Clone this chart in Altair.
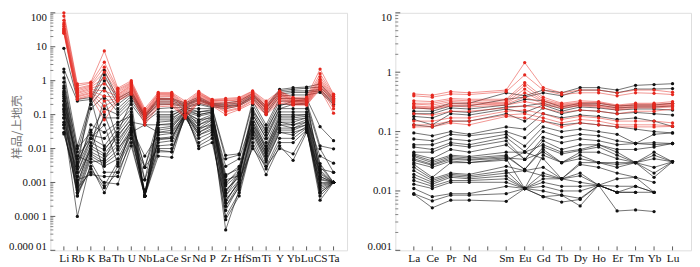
import altair as alt
import pandas as pd

# ---------------- data ----------------
left_elements = ["Li", "Rb", "K", "Ba", "Th", "U", "Nb", "La", "Ce", "Sr", "Nd",
                 "P", "Zr", "Hf", "Sm", "Ti", "Y", "Yb", "Lu", "CS", "Ta"]
right_elements = ["La", "Ce", "Pr", "Nd", "Pm", "Sm", "Eu", "Gd", "Tb", "Dy",
                  "Ho", "Er", "Tm", "Yb", "Lu"]

left_red = [
    [100, 0.8, 0.9, 7.5, 0.6, 1.0, 0.15, 0.45, 0.45, 0.25, 0.48, 0.28, 0.3, 0.32, 0.5, 0.25, 0.5, 0.32, 0.33, 2.2, 0.4],
    [80, 0.7, 0.85, 3.5, 0.55, 0.9, 0.13, 0.42, 0.42, 0.22, 0.45, 0.27, 0.28, 0.3, 0.48, 0.22, 0.48, 0.3, 0.3, 1.6, 0.38],
    [60, 0.6, 0.75, 2.5, 0.5, 0.85, 0.12, 0.4, 0.4, 0.2, 0.42, 0.26, 0.26, 0.28, 0.45, 0.2, 0.45, 0.28, 0.28, 1.3, 0.35],
    [50, 0.55, 0.7, 1.8, 0.45, 0.8, 0.11, 0.38, 0.38, 0.18, 0.4, 0.25, 0.25, 0.27, 0.42, 0.18, 0.42, 0.27, 0.27, 1.1, 0.33],
    [45, 0.5, 0.65, 1.2, 0.4, 0.75, 0.1, 0.35, 0.36, 0.16, 0.38, 0.24, 0.22, 0.25, 0.4, 0.17, 0.4, 0.26, 0.26, 1.0, 0.3],
    [40, 0.45, 0.6, 0.8, 0.38, 0.7, 0.1, 0.33, 0.34, 0.15, 0.35, 0.23, 0.2, 0.24, 0.38, 0.16, 0.38, 0.25, 0.25, 0.9, 0.28],
    [35, 0.42, 0.55, 0.5, 0.35, 0.65, 0.09, 0.3, 0.3, 0.13, 0.33, 0.22, 0.18, 0.22, 0.35, 0.15, 0.35, 0.24, 0.24, 0.8, 0.26],
    [32, 0.38, 0.5, 0.35, 0.32, 0.6, 0.085, 0.28, 0.28, 0.12, 0.3, 0.21, 0.16, 0.2, 0.32, 0.14, 0.32, 0.23, 0.23, 0.75, 0.24],
    [30, 0.35, 0.45, 0.25, 0.3, 0.55, 0.08, 0.25, 0.25, 0.1, 0.28, 0.2, 0.15, 0.18, 0.3, 0.13, 0.3, 0.22, 0.22, 0.7, 0.22],
    [28, 0.33, 0.42, 0.18, 0.28, 0.5, 0.07, 0.22, 0.22, 0.09, 0.26, 0.2, 0.13, 0.16, 0.27, 0.12, 0.28, 0.21, 0.21, 0.65, 0.18],
    [26, 0.3, 0.38, 0.12, 0.26, 0.45, 0.06, 0.19, 0.2, 0.085, 0.24, 0.19, 0.12, 0.15, 0.25, 0.11, 0.25, 0.2, 0.2, 0.6, 0.15],
    [25, 0.28, 0.35, 0.07, 0.25, 0.4, 0.05, 0.17, 0.18, 0.08, 0.22, 0.18, 0.1, 0.14, 0.22, 0.1, 0.22, 0.19, 0.19, 0.55, 0.11],
]

left_black = [
    [9, 0.28, 0.32, 2.0, 0.3, 0.5, 0.1, 0.3, 0.3, 0.22, 0.33, 0.21, 0.22, 0.25, 0.42, 0.18, 0.55, 0.62, 0.65, 0.8, 0.3],
    [2.2, 0.25, 0.28, 1.5, 0.25, 0.45, 0.09, 0.28, 0.28, 0.2, 0.3, 0.2, 0.2, 0.22, 0.38, 0.16, 0.5, 0.56, 0.6, 0.65, 0.27],
    [1.8, 0.012, 0.25, 1.0, 0.2, 0.4, 0.09, 0.25, 0.25, 0.19, 0.28, 0.19, 0.18, 0.2, 0.35, 0.15, 0.45, 0.5, 0.5, 0.55, 0.24],
    [1.2, 0.008, 0.2, 0.6, 0.15, 0.35, 0.08, 0.22, 0.22, 0.18, 0.26, 0.18, 0.17, 0.19, 0.33, 0.12, 0.4, 0.45, 0.45, 0.5, 0.22],
    [0.9, 0.005, 0.15, 0.35, 0.12, 0.3, 0.08, 0.2, 0.2, 0.17, 0.22, 0.17, 0.15, 0.18, 0.3, 0.1, 0.35, 0.38, 0.38, 0.45, 0.2],
    [0.7, 0.01, 0.03, 0.15, 0.1, 0.25, 0.07, 0.15, 0.16, 0.16, 0.2, 0.16, 0.0063, 0.007, 0.25, 0.05, 0.3, 0.3, 0.3, 0.044, 0.017],
    [0.5, 0.006, 0.02, 0.08, 0.08, 0.2, 0.06, 0.12, 0.12, 0.15, 0.15, 0.15, 0.005, 0.0065, 0.2, 0.04, 0.25, 0.25, 0.25, 0.012, 0.0098],
    [0.45, 0.004, 0.025, 0.02, 0.05, 0.15, 0.0004, 0.1, 0.1, 0.14, 0.12, 0.13, 0.0017, 0.0025, 0.15, 0.03, 0.2, 0.2, 0.2, 0.0099, 0.002],
    [0.35, 0.003, 0.02, 0.012, 0.04, 0.12, 0.0004, 0.08, 0.08, 0.13, 0.1, 0.12, 0.001, 0.002, 0.12, 0.025, 0.15, 0.15, 0.15, 0.0036, 0.001],
    [0.3, 0.002, 0.015, 0.009, 0.03, 0.1, 0.0012, 0.06, 0.065, 0.12, 0.09, 0.11, 0.0008, 0.0018, 0.1, 0.02, 0.12, 0.12, 0.12, 0.0023, 0.001],
    [0.25, 0.0015, 0.012, 0.007, 0.022, 0.08, 0.0004, 0.05, 0.05, 0.11, 0.07, 0.1, 0.0006, 0.0015, 0.08, 0.015, 0.1, 0.1, 0.1, 0.0018, 0.001],
    [0.2, 0.001, 0.01, 0.006, 0.015, 0.06, 0.0028, 0.04, 0.045, 0.1, 0.06, 0.09, 0.0005, 0.002, 0.06, 0.012, 0.08, 0.08, 0.09, 0.0015, 0.001],
    [0.15, 0.0008, 0.008, 0.005, 0.012, 0.05, 0.0004, 0.03, 0.035, 0.095, 0.05, 0.08, 0.0004, 0.0012, 0.05, 0.01, 0.06, 0.06, 0.08, 0.0012, 0.001],
    [0.12, 0.0006, 0.007, 0.004, 0.009, 0.04, 0.006, 0.025, 0.028, 0.09, 0.04, 0.07, 0.0003, 0.001, 0.04, 0.008, 0.05, 0.05, 0.07, 0.0009, 0.001],
    [0.1, 0.0005, 0.006, 0.0035, 0.007, 0.035, 0.0004, 0.02, 0.022, 0.1, 0.035, 0.06, 0.0002, 0.0009, 0.035, 0.006, 0.04, 0.04, 0.06, 0.0007, 0.001],
    [0.08, 0.0004, 0.005, 0.003, 0.005, 0.03, 0.0012, 0.015, 0.017, 0.09, 0.03, 0.05, 0.00015, 0.0008, 0.03, 0.005, 0.035, 0.035, 0.05, 0.0005, 0.001],
    [0.06, 0.0001, 0.004, 0.0008, 0.004, 0.025, 0.0004, 0.012, 0.013, 0.085, 0.025, 0.04, 0.00004, 0.0006, 0.025, 0.004, 0.03, 0.03, 0.04, 0.0003, 0.001],
    [0.05, 0.0004, 0.003, 0.0005, 0.003, 0.02, 0.0028, 0.01, 0.01, 0.08, 0.02, 0.03, 0.0001, 0.0005, 0.02, 0.003, 0.02, 0.02, 0.04, 0.0004, 0.001],
    [0.04, 0.0005, 0.0025, 0.0007, 0.002, 0.015, 0.0004, 0.008, 0.008, 0.09, 0.015, 0.025, 0.00008, 0.0004, 0.015, 0.0025, 0.015, 0.015, 0.035, 0.001, 0.001],
    [0.03, 0.0007, 0.002, 0.001, 0.0009, 0.012, 0.0004, 0.006, 0.0055, 0.1, 0.012, 0.02, 0.0002, 0.0007, 0.012, 0.0017, 0.012, 0.0045, 0.03, 0.002, 0.001],
    [0.027, 0.0012, 0.0017, 0.0015, 0.0015, 0.02, 0.0006, 0.009, 0.008, 0.12, 0.01, 0.015, 0.00025, 0.0012, 0.01, 0.003, 0.01, 0.007, 0.035, 0.0006, 0.001],
    [0.6, 0.003, 0.3, 0.01, 0.025, 0.07, 0.0028, 0.07, 0.07, 0.15, 0.1, 0.12, 0.0012, 0.0016, 0.1, 0.02, 0.15, 0.2, 0.22, 0.003, 0.001],
    [0.4, 0.0025, 0.05, 0.03, 0.06, 0.09, 0.0004, 0.09, 0.09, 0.17, 0.12, 0.14, 0.0006, 0.0014, 0.13, 0.035, 0.18, 0.25, 0.28, 0.0015, 0.001],
    [0.18, 0.0009, 0.012, 0.3, 0.018, 0.06, 0.05, 0.05, 0.055, 0.12, 0.07, 0.08, 0.003, 0.005, 0.08, 0.01, 0.09, 0.09, 0.1, 0.0025, 0.002],
    [0.08, 0.0015, 0.009, 0.1, 0.01, 0.03, 0.05, 0.03, 0.03, 0.11, 0.04, 0.05, 0.0015, 0.003, 0.05, 0.007, 0.06, 0.05, 0.06, 0.0013, 0.001],
    [0.05, 0.002, 0.02, 0.05, 0.0035, 0.03, 0.0004, 0.02, 0.02, 0.1, 0.03, 0.045, 0.0009, 0.0025, 0.04, 0.006, 0.05, 0.04, 0.05, 0.0008, 0.001],
    [0.25, 0.0035, 0.035, 0.002, 0.002, 0.05, 0.0004, 0.035, 0.04, 0.13, 0.05, 0.07, 0.0004, 0.0018, 0.06, 0.009, 0.07, 0.07, 0.08, 0.006, 0.0037],
    [0.14, 0.006, 0.004, 0.0045, 0.03, 0.25, 0.0004, 0.018, 0.02, 0.11, 0.025, 0.035, 0.0003, 0.001, 0.03, 0.0045, 0.03, 0.025, 0.045, 0.0005, 0.001],
]

right_red = [
    [0.43, 0.41, 0.47, 0.45, None, 0.5, 1.45, 0.55, 0.45, 0.5, 0.5, 0.45, 0.5, 0.5, 0.46],
    [0.4, 0.38, 0.43, 0.42, None, 0.47, 0.9, 0.5, 0.42, 0.45, 0.45, 0.4, 0.45, 0.44, 0.42],
    [0.33, 0.32, 0.36, 0.35, None, 0.35, 0.67, 0.38, 0.3, 0.33, 0.32, 0.28, 0.3, 0.3, 0.32],
    [0.3, 0.3, 0.34, 0.33, None, 0.33, 0.6, 0.35, 0.29, 0.31, 0.31, 0.27, 0.29, 0.29, 0.3],
    [0.29, 0.28, 0.32, 0.31, None, 0.31, 0.52, 0.33, 0.28, 0.3, 0.3, 0.26, 0.28, 0.28, 0.29],
    [0.27, 0.26, 0.3, 0.29, None, 0.3, 0.45, 0.32, 0.27, 0.29, 0.28, 0.25, 0.27, 0.27, 0.28],
    [0.26, 0.25, 0.28, 0.28, None, 0.29, 0.38, 0.3, 0.26, 0.28, 0.27, 0.24, 0.26, 0.26, 0.27],
    [0.25, 0.24, 0.27, 0.26, None, 0.28, 0.32, 0.28, 0.25, 0.27, 0.26, 0.23, 0.25, 0.25, 0.26],
    [0.2, 0.19, 0.22, 0.22, None, 0.25, 0.27, 0.25, 0.21, 0.23, 0.22, 0.2, 0.22, 0.22, 0.24],
    [0.15, 0.15, 0.17, 0.17, None, 0.22, 0.23, 0.2, 0.16, 0.18, 0.17, 0.15, 0.15, 0.15, 0.14],
    [0.13, 0.13, 0.15, 0.15, None, 0.19, 0.2, 0.17, 0.14, 0.16, 0.15, 0.13, 0.13, 0.13, 0.125],
    [0.12, 0.12, 0.14, 0.13, None, 0.18, 0.17, 0.15, 0.12, 0.14, 0.13, 0.12, 0.12, 0.12, 0.122],
]

right_black = [
    [0.25, 0.24, 0.3, 0.3, None, 0.45, 0.4, 0.5, 0.45, 0.55, 0.55, 0.5, 0.6, 0.62, 0.64],
    [0.22, 0.22, 0.27, 0.27, None, 0.35, 0.38, 0.45, 0.4, 0.5, 0.5, 0.45, 0.52, 0.52, 0.53],
    [0.2, 0.2, 0.25, 0.24, None, 0.28, 0.35, 0.33, 0.26, 0.3, 0.3, 0.27, 0.28, 0.28, 0.3],
    [0.18, 0.17, 0.22, 0.21, None, 0.26, 0.27, 0.3, 0.24, 0.28, 0.28, 0.25, 0.26, 0.26, 0.27],
    [0.16, 0.13, 0.2, 0.19, None, 0.24, 0.21, 0.28, 0.22, 0.26, 0.25, 0.23, 0.24, 0.24, 0.23],
    [0.13, 0.12, 0.15, 0.15, None, 0.2, 0.15, 0.25, 0.2, 0.23, 0.22, 0.2, 0.21, 0.2, 0.19],
    [0.095, 0.085, 0.1, 0.09, None, 0.12, 0.11, 0.2, 0.17, 0.19, 0.18, 0.16, 0.17, 0.15, 0.122],
    [0.075, 0.07, 0.09, 0.085, None, 0.1, 0.079, 0.15, 0.13, 0.14, 0.13, 0.12, 0.11, 0.1, 0.095],
    [0.06, 0.06, 0.075, 0.07, None, 0.09, 0.057, 0.12, 0.1, 0.11, 0.1, 0.09, 0.063, 0.09, 0.095],
    [0.055, 0.05, 0.065, 0.06, None, 0.08, 0.046, 0.1, 0.08, 0.09, 0.085, 0.07, 0.063, 0.065, 0.063],
    [0.045, 0.045, 0.06, 0.055, None, 0.07, 0.034, 0.08, 0.065, 0.075, 0.07, 0.06, 0.063, 0.06, 0.063],
    [0.042, 0.035, 0.05, 0.045, None, 0.06, 0.034, 0.07, 0.05, 0.06, 0.06, 0.05, 0.05, 0.055, 0.063],
    [0.04, 0.032, 0.04, 0.038, None, 0.045, 0.045, 0.06, 0.045, 0.05, 0.06, 0.045, 0.03, 0.045, 0.031],
    [0.038, 0.03, 0.038, 0.036, None, 0.04, 0.023, 0.055, 0.042, 0.048, 0.055, 0.04, 0.03, 0.04, 0.031],
    [0.035, 0.028, 0.036, 0.034, None, 0.038, 0.023, 0.05, 0.03, 0.045, 0.045, 0.035, 0.03, 0.035, 0.031],
    [0.033, 0.027, 0.034, 0.033, None, 0.036, 0.034, 0.045, 0.03, 0.04, 0.03, 0.03, 0.03, 0.025, 0.031],
    [0.03, 0.025, 0.032, 0.03, None, 0.035, 0.011, 0.04, 0.03, 0.035, 0.03, 0.028, 0.03, 0.02, 0.031],
    [0.028, 0.017, 0.03, 0.03, None, 0.033, 0.045, 0.035, 0.016, 0.03, 0.03, 0.025, 0.03, 0.017, 0.031],
    [0.025, 0.016, 0.02, 0.019, None, 0.026, 0.022, 0.025, 0.016, 0.028, 0.025, 0.02, 0.017, 0.014, None],
    [0.022, 0.015, 0.019, 0.018, None, 0.022, 0.011, 0.02, 0.016, 0.02, 0.0125, 0.016, 0.017, 0.0095, None],
    [0.019, 0.014, 0.018, 0.017, None, 0.02, 0.022, 0.018, 0.016, 0.018, 0.0125, 0.012, 0.012, 0.0095, None],
    [0.017, 0.013, 0.017, 0.016, None, 0.018, 0.011, 0.016, 0.016, 0.014, 0.0125, 0.0095, 0.012, 0.0095, None],
    [0.015, 0.012, 0.015, 0.015, None, 0.016, 0.011, 0.014, 0.012, 0.012, 0.0125, 0.0095, 0.0095, None, None],
    [0.013, 0.011, 0.014, 0.014, None, 0.014, 0.011, 0.012, 0.01, 0.01, 0.0125, 0.0046, 0.0048, 0.0045, None],
    [0.011, 0.008, 0.009, 0.009, None, 0.012, 0.011, 0.01, 0.0085, 0.0075, 0.0125, 0.0095, 0.0095, 0.0095, None],
    [0.009, 0.0068, 0.0085, 0.0085, None, 0.009, 0.011, 0.008, 0.0085, 0.0056, 0.0125, 0.0095, None, None, None],
    [0.0088, 0.0052, 0.007, 0.007, None, 0.0067, 0.011, 0.008, 0.0065, 0.0072, 0.0125, 0.0095, None, None, None],
]

left_decades = [1e-5, 1e-4, 1e-3, 1e-2, 1e-1, 1, 10, 100]
left_decade_labels = ["0.000 01", "0.000 1", "0.001", "0.01", "0.1", "1", "10", "100"]
right_decades = [1e-3, 1e-2, 1e-1, 1, 10]
right_decade_labels = ["0.001", "0.01", "0.1", "1", "10"]
y_title = "样品/上地壳"

RED = "#e5281f"
BLACK = "#111111"
SERIF = "Liberation Serif"


def long_df(series_list, elements, group):
    rows = []
    for i, s in enumerate(series_list):
        for j, (el, v) in enumerate(zip(elements, s)):
            if v is None:
                continue
            rows.append({"series": f"{group}{i}", "el": el, "idx": j, "value": v})
    return pd.DataFrame(rows)


def label_expr(decades, labels):
    import math
    expr = "''"
    for d, lab in zip(decades, labels):
        k = int(round(math.log10(d)))
        expr = f"(round(log(datum.value)/LN10) == {k} ? '{lab}' : {expr})"
    return expr


def minor_ticks(decades):
    vals = []
    for d in decades[:-1]:
        for m in range(2, 10):
            vals.append(d * m)
    return vals


def panel(black, red, elements, decades, labels, width, height, title=None):
    xscale = alt.Scale(type="point", domain=elements, padding=1)
    yscale = alt.Scale(type="log", domain=[decades[0], decades[-1]], nice=False)
    axis_kw = dict(values=decades, labelExpr=label_expr(decades, labels), ticks=False,
                   domain=False, grid=False, labelFont=SERIF, labelFontSize=11,
                   labelColor="#111", labelPadding=4, labelFlush=True, labelFlushOffset=1)
    if title:
        axis_kw.update(title=title, titleFont="Noto Sans CJK SC", titleFontSize=12,
                       titleFontWeight="normal", titleColor="#777", titleX=-27,
                       titleY=height / 2 - 5)
    else:
        axis_kw.update(title=None)
    yaxis = alt.Axis(**axis_kw)
    xaxis = alt.Axis(title=None, labelExpr="datum.value == 'Pm' ? '' : datum.value",
                     ticks=False, domain=False, grid=False, labelAngle=0, labelFont=SERIF,
                     labelFontSize=11.5, labelColor="#111", labelPadding=2)
    X = lambda: alt.X("el:N", scale=xscale, axis=xaxis)

    dfb = long_df(black, elements, "b")
    dfr = long_df(red, elements, "r")

    def lines(df, color, op):
        base = alt.Chart(df)
        ln = base.mark_line(strokeWidth=0.7, opacity=op, color=color).encode(
            x=X(),
            y=alt.Y("value:Q", scale=yscale, axis=yaxis),
            detail="series:N",
            order=alt.Order("idx:Q"),
        )
        pt = base.mark_point(filled=True, size=11, opacity=1, color=color, shape="circle").encode(
            x=X(),
            y=alt.Y("value:Q", scale=yscale, axis=yaxis),
        )
        return ln, pt

    bl, bp = lines(dfb, BLACK, 0.85)
    rl, rp = lines(dfr, RED, 0.7)

    xt = alt.Chart(pd.DataFrame({"el": elements})).mark_rule(color="#333", strokeWidth=0.8).encode(
        x=X(), y=alt.value(height - 4), y2=alt.value(height))
    ymaj = alt.Chart(pd.DataFrame({"value": decades})).mark_rule(color="#333", strokeWidth=0.8).encode(
        y=alt.Y("value:Q", scale=yscale, axis=yaxis), x=alt.value(0), x2=alt.value(5))
    ymin = alt.Chart(pd.DataFrame({"value": minor_ticks(decades)})).mark_rule(color="#333", strokeWidth=0.6).encode(
        y=alt.Y("value:Q", scale=yscale, axis=yaxis), x=alt.value(0), x2=alt.value(3))

    return alt.layer(bl, bp, rl, rp, xt, ymaj, ymin).properties(width=width, height=height)


left = panel(left_black, left_red, left_elements, left_decades, left_decade_labels, 301, 241, y_title)
right = panel(right_black, right_red, right_elements, right_decades, right_decade_labels, 300, 241)

chart = alt.hconcat(left, right, spacing=18).properties(padding=0).configure_view(
    stroke="#444", strokeWidth=1).configure(background="white")

chart.save("out.html", embed_options={"renderer": "svg", "actions": False})
